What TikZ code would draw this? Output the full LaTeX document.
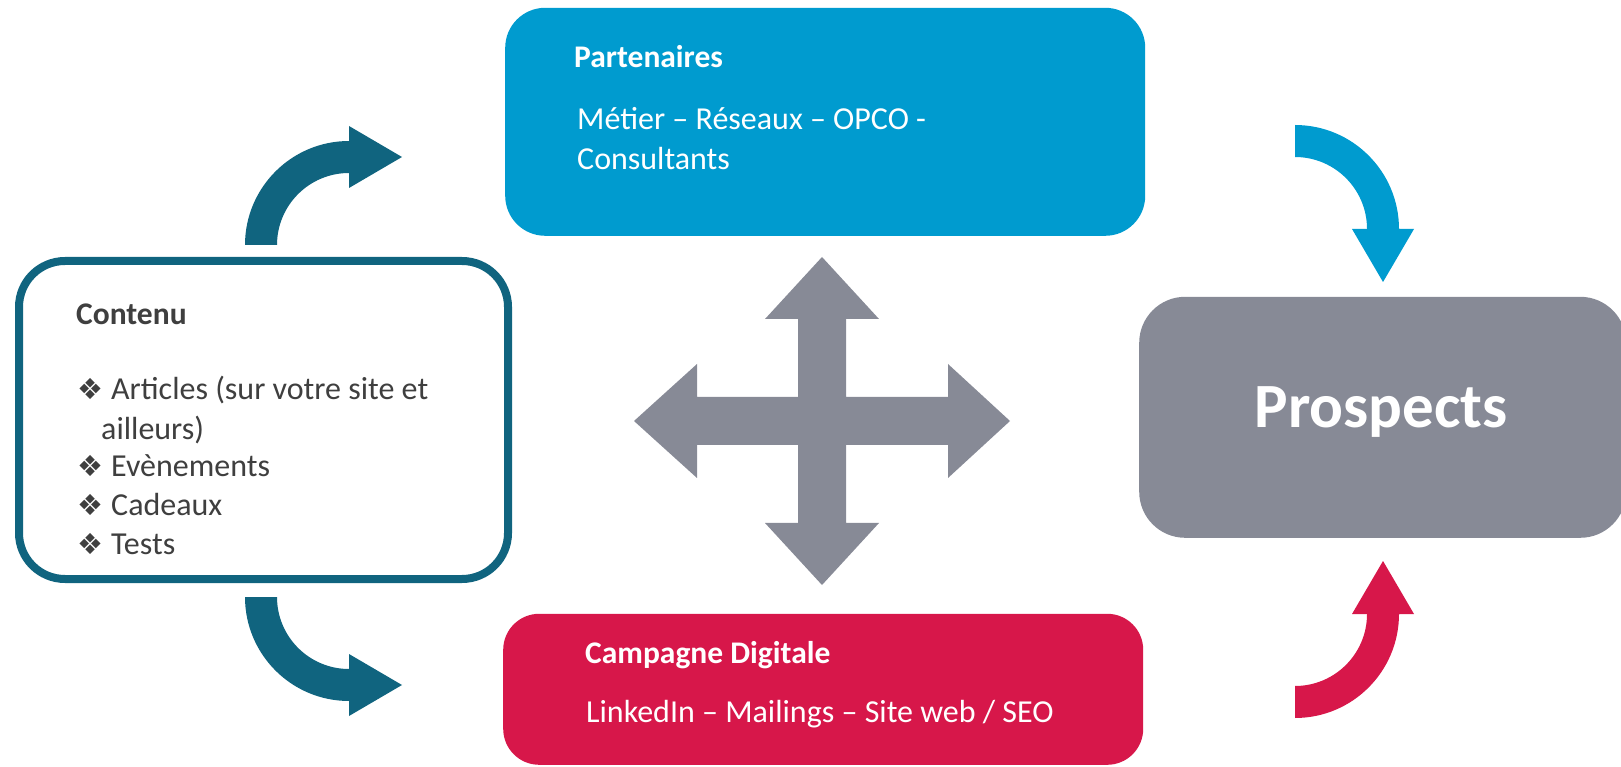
\documentclass[tikz,border=0pt]{standalone}
\usepackage{fontspec}
\setmainfont{Carlito}
\newfontfamily\symbolfont{DejaVu Sans}

\definecolor{petrol}{HTML}{10647F}
\definecolor{azur}{HTML}{009BCF}
\definecolor{framboise}{HTML}{D7174A}
\definecolor{ardoise}{HTML}{878A96}
\definecolor{encre}{HTML}{3F3F3F}

\newcommand\puce{{\symbolfont\fontsize{29}{32}\selectfont\raisebox{0pt}{❖}}}

\begin{document}
\begin{tikzpicture}[x=1pt,y=1pt]
	\tikzstyle{every node}=[inner sep=0pt, anchor=base west]
	\tikzstyle{boite}=[rectangle, anchor=south west, minimum width=#1]
	\tikzstyle{txt}=[font=\fontsize{32}{38}\selectfont]
	\tikzstyle{titre}=[font=\fontsize{31.5}{38}\selectfont\bfseries]
	\useasboundingbox (0,0) rectangle (1621,766);
	% boites
	\draw (15,183) node (contenu) [boite=489pt, minimum height=318pt, draw=petrol, line width=8pt, fill=white, rounded corners=46pt] {};
	\draw (505,530) node (partenaires) [boite=640pt, minimum height=228pt, fill=azur, rounded corners=40pt] {};
	\draw (503,1) node (campagne) [boite=640pt, minimum height=151pt, fill=framboise, rounded corners=36pt] {};
	\draw (1139,228) node (prospects) [boite=487pt, minimum height=241pt, fill=ardoise, rounded corners=46pt] {};
	% textes
	\draw (76,441) node (tcontenu) [titre, encre] {Contenu};
	\draw (77,366) node (l1) [txt, encre] {\makebox[34pt][l]{\puce}Articles (sur votre site et};
	\draw (101,326) node (l2) [txt, encre] {ailleurs)};
	\draw (77,289) node (l3) [txt, encre] {\makebox[34pt][l]{\puce}Evènements};
	\draw (77,251) node (l4) [txt, encre] {\makebox[34pt][l]{\puce}Cadeaux};
	\draw (77,212) node (l5) [txt, encre] {\makebox[34pt][l]{\puce}Tests};
	\draw (574,698) node (tpart) [titre, white] {Partenaires};
	\draw (577,636) node (p1) [txt, white] {Métier – Réseaux – OPCO -};
	\draw (577,596) node (p2) [txt, white] {Consultants};
	\draw (585,103) node (tcamp) [titre, white] {Campagne Digitale};
	\draw (586,44) node (c1) [txt, white] {LinkedIn – Mailings – Site web / SEO};
	\draw (1381,338) node (tprosp) [anchor=base, font=\fontsize{63}{70}\selectfont\bfseries, white] {Prospects};
	% fleche en croix
	\fill[ardoise] (822,345) ++(188,0) -- ++(-62,57) -- ++(0,-33) -- ++(-102,0) -- ++(0,78) -- ++(33,0)
		-- ++(-57,62) -- ++(-57,-62) -- ++(33,0) -- ++(0,-78) -- ++(-101,0) -- ++(0,33) -- ++(-63,-57)
		-- ++(63,-57) -- ++(0,33) -- ++(101,0) -- ++(0,-78) -- ++(-33,0) -- ++(57,-62) -- ++(57,62)
		-- ++(-33,0) -- ++(0,78) -- ++(102,0) -- ++(0,-33) -- cycle;
	% fleches courbes
	\fill[petrol] (245,521) arc[start angle=180, end angle=90, radius=104] -- (349,640) -- (402,609) -- (349,578)
		-- (349,593) arc[start angle=90, end angle=180, radius=72] -- cycle;
	\fill[petrol] (245,169) arc[start angle=180, end angle=270, radius=104] -- (349,50) -- (402,81) -- (349,112)
		-- (349,97) arc[start angle=270, end angle=180, radius=72] -- cycle;
	\fill[azur] (1295,641) arc[start angle=90, end angle=0, radius=104] -- (1414,537) -- (1383,484) -- (1352,537)
		-- (1367,537) arc[start angle=0, end angle=90, radius=72] -- cycle;
	\fill[framboise] (1295,48) arc[start angle=270, end angle=360, radius=104] -- (1414,152) -- (1383,205) -- (1352,152)
		-- (1367,152) arc[start angle=360, end angle=270, radius=72] -- cycle;
\end{tikzpicture}
\end{document}
